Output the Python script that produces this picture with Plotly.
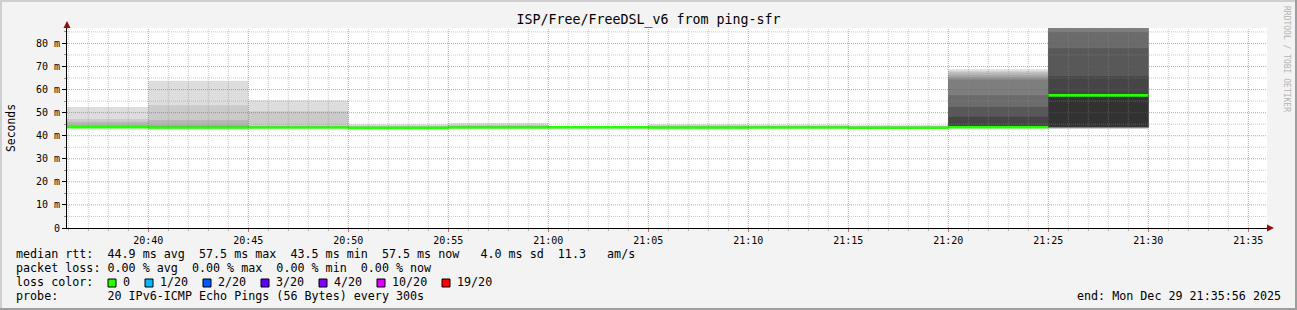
import plotly.graph_objects as go
import pandas as pd

# ---------------- data ----------------
title_text = "ISP/Free/FreeDSL_v6 from ping-sfr"
x_range = ["2025-12-29 20:35:56", "2025-12-29 21:35:56"]
block_start = ["2025-12-29 20:35:00", "2025-12-29 20:40:00", "2025-12-29 20:45:00",
               "2025-12-29 20:50:00", "2025-12-29 20:55:00", "2025-12-29 21:00:00",
               "2025-12-29 21:05:00", "2025-12-29 21:10:00", "2025-12-29 21:15:00",
               "2025-12-29 21:20:00", "2025-12-29 21:25:00"]
step_seconds = 300

# median rtt per 5-minute block (ms)
median_rtt = [43.7, 43.6, 43.6, 43.5, 43.6, 43.7, 43.6, 43.6, 43.5, 43.7, 57.5]

# the 20 sorted ping times per block (ms)
pings_2035 = [43.3, 43.4, 43.4, 43.5, 43.5, 43.5, 43.6, 43.6, 43.6, 43.7,
              43.7, 43.8, 43.8, 43.9, 44.0, 44.2, 44.5, 45.9, 47.3, 52.4]
pings_2040 = [42.5, 43.2, 43.3, 43.4, 43.4, 43.5, 43.5, 43.5, 43.6, 43.6,
              43.6, 43.7, 43.7, 43.8, 43.9, 44.1, 44.4, 46.8, 53.2, 63.8]
pings_2045 = [43.2, 43.3, 43.3, 43.4, 43.4, 43.5, 43.5, 43.5, 43.6, 43.6,
              43.6, 43.7, 43.7, 43.8, 43.8, 43.9, 44.0, 44.2, 50.6, 55.4]
pings_2050 = [42.5, 43.0, 43.1, 43.2, 43.3, 43.3, 43.4, 43.4, 43.5, 43.5,
              43.5, 43.6, 43.6, 43.7, 43.7, 43.8, 43.9, 44.0, 44.3, 45.0]
pings_2055 = [43.1, 43.2, 43.3, 43.3, 43.4, 43.4, 43.5, 43.5, 43.6, 43.6,
              43.6, 43.7, 43.7, 43.8, 43.9, 44.0, 44.1, 44.3, 44.7, 45.5]
pings_2100 = [42.7, 43.1, 43.3, 43.4, 43.5, 43.5, 43.6, 43.6, 43.7, 43.7,
              43.7, 43.7, 43.8, 43.8, 43.9, 43.9, 44.0, 44.0, 44.1, 44.2]
pings_2105 = [42.4, 43.0, 43.2, 43.3, 43.4, 43.4, 43.5, 43.5, 43.6, 43.6,
              43.6, 43.7, 43.7, 43.8, 43.8, 43.9, 44.0, 44.1, 44.5, 45.0]
pings_2110 = [43.1, 43.2, 43.3, 43.3, 43.4, 43.4, 43.5, 43.5, 43.6, 43.6,
              43.6, 43.7, 43.7, 43.8, 43.8, 43.9, 44.0, 44.1, 44.3, 44.9]
pings_2115 = [43.0, 43.1, 43.2, 43.2, 43.3, 43.3, 43.4, 43.4, 43.5, 43.5,
              43.5, 43.6, 43.6, 43.7, 43.7, 43.8, 43.9, 44.0, 44.2, 44.5]
pings_2120 = [43.0, 43.3, 43.4, 43.4, 43.5, 43.5, 43.6, 43.6, 43.7, 43.7,
              43.7, 48.2, 52.5, 57.6, 64.4, 65.2, 66.2, 67.4, 68.0, 68.8]
pings_2125 = [43.0, 43.1, 43.2, 43.3, 43.5, 43.6, 43.7, 43.8, 43.85, 43.9,
              57.5, 65.8, 77.9, 85.1, 88.5, 90.2, 92.0, 95.3, 99.1, 104.6]
pings = [pings_2035, pings_2040, pings_2045, pings_2050, pings_2055, pings_2100,
         pings_2105, pings_2110, pings_2115, pings_2120, pings_2125]

ytick_vals = [0, 10, 20, 30, 40, 50, 60, 70, 80]
ytick_text = ["0", "10 m", "20 m", "30 m", "40 m", "50 m", "60 m", "70 m", "80 m"]
y_max = 86.7

loss_labels = ["0", "1/20", "2/20", "3/20", "4/20", "10/20", "19/20"]
loss_colors = ["#26ff00", "#00b8ff", "#0059ff", "#5e00ff", "#7e00ff", "#dd00ff", "#ff0000"]

legend_rows = [
    "median rtt:  44.9 ms avg  57.5 ms max  43.5 ms min  57.5 ms now   4.0 ms sd  11.3   am/s",
    "packet loss: 0.00 % avg  0.00 % max  0.00 % min  0.00 % now",
    "loss color:",
    "probe:       20 IPv6-ICMP Echo Pings (56 Bytes) every 300s",
]
end_text = "end: Mon Dec 29 21:35:56 2025"
watermark = "RRDTOOL / TOBI OETIKER"
ylabel = "Seconds"

# ---------------- layout constants ----------------
W, H = 1297, 310
L, R, T, B = 67, 30, 28, 82
PW, PH = W - L - R, H - T - B
MONO = "DejaVu Sans Mono"
LEG_SIZE = 11.7
CW = 7.0  # legend char width in px


def px2x(px):
    return (px - L) / PW


def py2y(py):
    return (T + PH - py) / PH


def nb(s):
    return s.replace(" ", "\u00a0")


starts = pd.to_datetime(block_start)
step = pd.Timedelta(seconds=step_seconds)
x_steps = [t.strftime("%Y-%m-%d %H:%M:%S") for t in list(starts) + [starts[-1] + step]]


def stepvals(v):
    return list(v) + [v[-1]]


fig = go.Figure()

n = len(pings[0])
half = n // 2
for i in range(1, half + 1):
    shade = int(190 / half * (half - i)) + 50
    col = "#" + ("%02x" % shade) * 3
    lo = [p[i - 1] for p in pings]
    hi = [p[n - i] for p in pings]
    fig.add_trace(go.Scatter(x=x_steps, y=stepvals(lo), mode="lines",
                             line=dict(width=0, shape="hv"), hoverinfo="skip",
                             showlegend=False))
    fig.add_trace(go.Scatter(x=x_steps, y=stepvals(hi), mode="lines",
                             line=dict(width=0, shape="hv"), fill="tonexty",
                             fillcolor=col, hoverinfo="skip", showlegend=False))

MW = 0.55
fig.add_trace(go.Scatter(x=x_steps, y=stepvals([m - MW for m in median_rtt]), mode="lines",
                         line=dict(width=0, shape="hv"), hoverinfo="skip", showlegend=False))
fig.add_trace(go.Scatter(x=x_steps, y=stepvals([m + MW for m in median_rtt]), mode="lines",
                         line=dict(width=0, shape="hv"), fill="tonexty",
                         fillcolor=loss_colors[0], hoverinfo="skip", showlegend=False))

major_grid = "rgba(225,40,40,0.5)"
minor_grid = "rgba(140,140,140,0.45)"
GRID_DASH = "1px,1px"

fig.update_xaxes(
    type="date", range=x_range, tick0="2025-12-29 20:40:00", dtick=300000,
    tickformat="%H:%M", showgrid=False, showline=True, linecolor="#000000", linewidth=1,
    ticks="outside", ticklen=3, tickcolor="#d07070", zeroline=False,
    tickfont=dict(family=MONO, size=10, color="#000000"),
    minor=dict(dtick=60000, showgrid=False, ticks="outside", ticklen=2, tickcolor="#b0b0b0"),
    fixedrange=True, layer="above traces",
)
fig.update_yaxes(
    range=[0, y_max], tickmode="array", tickvals=ytick_vals, ticktext=ytick_text,
    showgrid=False, showline=True, linecolor="#000000", linewidth=1, zeroline=False,
    ticks="outside", ticklen=4, tickcolor="#000000",
    tickfont=dict(family=MONO, size=10, color="#000000"),
    minor=dict(tick0=0, dtick=5, showgrid=False, ticks="outside", ticklen=2, tickcolor="#909090"),
    fixedrange=True, layer="above traces",
)

annotations = []
shapes = []

# grid drawn above the graph elements, as rrdtool does
x0, x1 = pd.to_datetime(x_range)
minute_lines = pd.date_range(x0.ceil("min"), x1, freq="min")
for t in minute_lines:
    major = (t.minute % 5 == 0)
    ts = t.strftime("%Y-%m-%d %H:%M:%S")
    shapes.append(dict(type="line", xref="x", yref="paper", layer="above",
                       x0=ts, x1=ts, y0=0, y1=1,
                       line=dict(color=major_grid if major else minor_grid, width=1, dash=GRID_DASH)))
v = 5
while v < y_max:
    major = (v % 10 == 0)
    shapes.append(dict(type="line", xref="paper", yref="y", layer="above",
                       x0=0, x1=1, y0=v, y1=v,
                       line=dict(color=major_grid if major else minor_grid, width=1, dash=GRID_DASH)))
    v += 5

# legend rows
row_py = [254, 268, 282, 296]
for txt, py in zip(legend_rows, row_py):
    annotations.append(dict(text=nb(txt), x=px2x(14), y=py2y(py), xref="paper", yref="paper",
                            xanchor="left", yanchor="middle", showarrow=False,
                            font=dict(family=MONO, size=LEG_SIZE, color="#000000")))

# loss colour boxes
bx = 108.0
for lab, colr in zip(loss_labels, loss_colors):
    shapes.append(dict(type="rect", xref="paper", yref="paper",
                       x0=px2x(bx), x1=px2x(bx + 8), y0=py2y(287), y1=py2y(279),
                       fillcolor=colr, line=dict(color="#000000", width=1)))
    lx = bx + 15
    annotations.append(dict(text=nb(lab), x=px2x(lx - 2), y=py2y(282), xref="paper", yref="paper",
                            xanchor="left", yanchor="middle", showarrow=False,
                            font=dict(family=MONO, size=LEG_SIZE, color="#000000")))
    bx = lx + len(lab) * CW + 15

annotations.append(dict(text=nb(end_text), x=px2x(1283), y=py2y(296), xref="paper", yref="paper",
                        xanchor="right", yanchor="middle", showarrow=False,
                        font=dict(family=MONO, size=LEG_SIZE, color="#000000")))

# y axis title
annotations.append(dict(text=ylabel, x=px2x(11), y=0.5, xref="paper", yref="paper",
                        xanchor="center", yanchor="middle", textangle=-90, showarrow=False,
                        font=dict(family=MONO, size=11.4, color="#000000")))

# watermark
annotations.append(dict(text=nb(watermark), x=px2x(1287), y=py2y(59), xref="paper", yref="paper",
                        xanchor="center", yanchor="middle", textangle=90, showarrow=False,
                        font=dict(family=MONO, size=8, color="#b4b4b4")))

# axis arrows
annotations.append(dict(text="", x=0, y=py2y(21), xref="paper", yref="paper",
                        ax=0, ay=9, showarrow=True, arrowhead=2, arrowsize=1.4,
                        arrowwidth=1, arrowcolor="#8b1010"))
annotations.append(dict(text="", x=px2x(1274), y=0, xref="paper", yref="paper",
                        ax=-9, ay=0, showarrow=True, arrowhead=2, arrowsize=1.4,
                        arrowwidth=1, arrowcolor="#8b1010"))

# image frame
shapes += [
    dict(type="line", xref="paper", yref="paper", x0=px2x(0), x1=px2x(W), y0=py2y(1), y1=py2y(1),
         line=dict(color="#cfcfcf", width=2)),
    dict(type="line", xref="paper", yref="paper", x0=px2x(1), x1=px2x(1), y0=py2y(0), y1=py2y(H),
         line=dict(color="#cfcfcf", width=2)),
    dict(type="line", xref="paper", yref="paper", x0=px2x(0), x1=px2x(W), y0=py2y(H - 1), y1=py2y(H - 1),
         line=dict(color="#9e9e9e", width=2)),
    dict(type="line", xref="paper", yref="paper", x0=px2x(W - 1), x1=px2x(W - 1), y0=py2y(0), y1=py2y(H),
         line=dict(color="#9e9e9e", width=2)),
]

fig.update_layout(
    width=W, height=H, autosize=False,
    margin=dict(l=L, r=R, t=T, b=B, pad=0),
    paper_bgcolor="#f3f3f3", plot_bgcolor="#ffffff",
    title=dict(text=title_text, x=0.5, xref="container", xanchor="center",
               y=1 - 19 / H, yref="container", yanchor="middle",
               font=dict(family=MONO, size=13.3, color="#000000")),
    showlegend=False,
    annotations=annotations,
    shapes=shapes,
    hovermode=False,
)

fig.write_html("out.html", config={"displayModeBar": False, "staticPlot": True})
